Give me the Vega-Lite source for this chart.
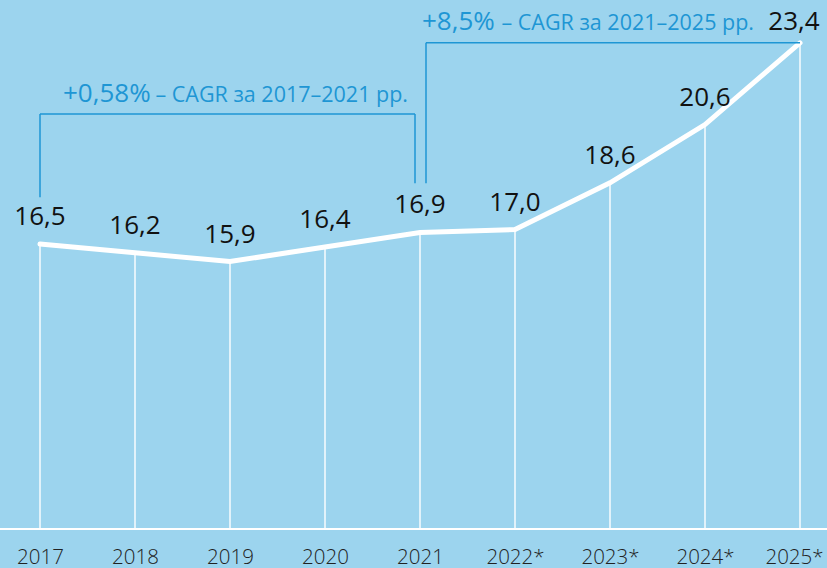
{
  "$schema": "https://vega.github.io/schema/vega-lite/v6.json",
  "width": 827,
  "height": 529,
  "autosize": {"type": "none"},
  "padding": {"left": 0, "top": 0, "right": 0, "bottom": 39},
  "background": "#9cd4ee",
  "config": {
    "view": {"stroke": null},
    "font": "Open Sans"
  },
  "datasets": {
    "main": [
      {"year": "2017", "value": 16.5, "label": "16,5"},
      {"year": "2018", "value": 16.2, "label": "16,2"},
      {"year": "2019", "value": 15.9, "label": "15,9"},
      {"year": "2020", "value": 16.4, "label": "16,4"},
      {"year": "2021", "value": 16.9, "label": "16,9"},
      {"year": "2022*", "value": 17.0, "label": "17,0"},
      {"year": "2023*", "value": 18.6, "label": "18,6"},
      {"year": "2024*", "value": 20.6, "label": "20,6"},
      {"year": "2025*", "value": 23.4, "label": "23,4"}
    ]
  },
  "encoding": {
    "x": {
      "field": "year",
      "type": "ordinal",
      "sort": null,
      "scale": {"type": "point", "range": [40, 800], "padding": 0, "domain": ["2017","2018","2019","2020","2021","2022*","2023*","2024*","2025*"]},
      "axis": {
        "title": null,
        "domain": false,
        "ticks": false,
        "tickSize": 0,
        "grid": false,
        "labelAngle": 0,
        "labelBaseline": "alphabetic",
        "labelPadding": 34,
        "labelFont": "Open Sans",
        "labelFontWeight": 300,
        "labelFontSize": 20.5,
        "labelColor": "#222222",
        "labelOffset": {"condition": {"test": "datum.value === '2025*'", "value": -6}, "value": 0}
      }
    }
  },
  "layer": [
    {
      "data": {"name": "main"},
      "mark": {"type": "rule", "color": "#ffffff", "strokeWidth": 1.4},
      "encoding": {
        "y": {"field": "value", "type": "quantitative", "scale": {"domain": [6.73, 24.87], "nice": false, "zero": false}, "axis": null},
        "y2": {"datum": 6.73}
      }
    },
    {
      "data": {"name": "main"},
      "mark": {"type": "rule", "color": "#ffffff", "strokeWidth": 1.6},
      "encoding": {
        "x": null,
        "y": {"datum": 6.73, "type": "quantitative"}
      }
    },
    {
      "data": {"name": "main"},
      "mark": {"type": "line", "color": "#ffffff", "strokeWidth": 5, "strokeCap": "round"},
      "encoding": {
        "y": {"field": "value", "type": "quantitative"}
      }
    },
    {
      "data": {"name": "main"},
      "transform": [{"filter": "datum.year !== '2025*'"}],
      "mark": {"type": "text", "color": "#111111", "fontSize": 26, "font": "Open Sans", "align": "center", "baseline": "alphabetic", "dy": -19},
      "encoding": {
        "y": {"field": "value", "type": "quantitative"},
        "text": {"field": "label"}
      }
    },
    {
      "data": {"name": "main"},
      "transform": [{"filter": "datum.year === '2025*'"}],
      "mark": {"type": "text", "color": "#111111", "fontSize": 26, "font": "Open Sans", "align": "center", "baseline": "alphabetic", "dy": -13, "dx": -6},
      "encoding": {
        "y": {"field": "value", "type": "quantitative"},
        "text": {"field": "label"}
      }
    },
    {
      "data": {"values": [{"x": "2017", "y": 20.96, "y2": 18.11}]},
      "mark": {"type": "rule", "color": "#1e96d4", "strokeWidth": 1.5},
      "encoding": {
        "x": {"field": "x", "type": "ordinal"},
        "y": {"field": "y", "type": "quantitative"},
        "y2": {"field": "y2"}
      }
    },
    {
      "data": {"values": [{"x": "2017", "x2": "2021", "y": 20.96}]},
      "mark": {"type": "rule", "color": "#1e96d4", "strokeWidth": 1.5, "x2Offset": -5},
      "encoding": {
        "x": {"field": "x", "type": "ordinal"},
        "x2": {"field": "x2"},
        "y": {"field": "y", "type": "quantitative"}
      }
    },
    {
      "data": {"values": [{"x": "2021", "y": 20.96, "y2": 18.59}]},
      "mark": {"type": "rule", "color": "#1e96d4", "strokeWidth": 1.5, "xOffset": -5},
      "encoding": {
        "x": {"field": "x", "type": "ordinal"},
        "y": {"field": "y", "type": "quantitative"},
        "y2": {"field": "y2"}
      }
    },
    {
      "data": {"values": [{"x": "2021", "y": 23.40, "y2": 18.59}]},
      "mark": {"type": "rule", "color": "#1e96d4", "strokeWidth": 1.5, "xOffset": 6},
      "encoding": {
        "x": {"field": "x", "type": "ordinal"},
        "y": {"field": "y", "type": "quantitative"},
        "y2": {"field": "y2"}
      }
    },
    {
      "data": {"values": [{"x": "2021", "x2": "2025*", "y": 23.40}]},
      "mark": {"type": "rule", "color": "#1e96d4", "strokeWidth": 1.5, "xOffset": 6},
      "encoding": {
        "x": {"field": "x", "type": "ordinal"},
        "x2": {"field": "x2"},
        "y": {"field": "y", "type": "quantitative"}
      }
    },
    {
      "data": {"values": [{"x": "2017", "y": 21.38, "text": "+0,58%"}]},
      "mark": {"type": "text", "color": "#1e96d4", "fontSize": 26, "font": "Open Sans", "align": "left", "baseline": "alphabetic", "xOffset": 23},
      "encoding": {
        "x": {"field": "x", "type": "ordinal"},
        "y": {"field": "y", "type": "quantitative"},
        "text": {"field": "text"}
      }
    },
    {
      "data": {"values": [{"x": "2021", "y": 21.38, "text": "– CAGR за 2017–2021 рр."}]},
      "mark": {"type": "text", "color": "#1e96d4", "fontSize": 21.5, "font": "Open Sans", "align": "right", "baseline": "alphabetic", "xOffset": -12},
      "encoding": {
        "x": {"field": "x", "type": "ordinal"},
        "y": {"field": "y", "type": "quantitative"},
        "text": {"field": "text"}
      }
    },
    {
      "data": {"values": [{"x": "2021", "y": 23.84, "text": "+8,5%"}]},
      "mark": {"type": "text", "color": "#1e96d4", "fontSize": 26, "font": "Open Sans", "align": "left", "baseline": "alphabetic", "xOffset": 2},
      "encoding": {
        "x": {"field": "x", "type": "ordinal"},
        "y": {"field": "y", "type": "quantitative"},
        "text": {"field": "text"}
      }
    },
    {
      "data": {"values": [{"x": "2025*", "y": 23.84, "text": "– CAGR за 2021–2025 рр."}]},
      "mark": {"type": "text", "color": "#1e96d4", "fontSize": 21.5, "font": "Open Sans", "align": "right", "baseline": "alphabetic", "xOffset": -46},
      "encoding": {
        "x": {"field": "x", "type": "ordinal"},
        "y": {"field": "y", "type": "quantitative"},
        "text": {"field": "text"}
      }
    }
  ]
}
